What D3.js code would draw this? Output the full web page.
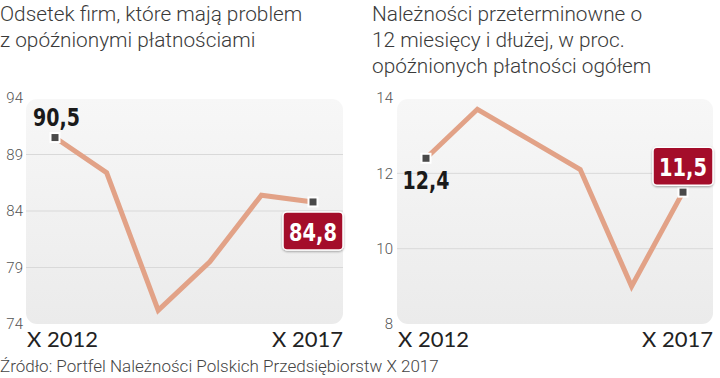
<!DOCTYPE html>
<html>
<head>
<meta charset="utf-8">
<script src="https://cdn.jsdelivr.net/npm/d3@7"></script>
<style>
body { margin: 0; background: #fff; }
svg { display: block; }
</style>
</head>
<body>
<svg id="chart" width="720" height="378"></svg>
<script>
// dane
var periods = ["X 2012", "X 2013", "X 2014", "X 2015", "X 2016", "X 2017"];

var firmsShare = [90.5, 87.4, 75.2, 79.5, 85.4, 84.8];
var firmsTicks = [74, 79, 84, 89, 94];
var firmsTitle = ["Odsetek firm, które mają problem", "z opóźnionymi płatnościami"];

var overdueShare = [12.4, 13.7, 12.9, 12.1, 9.0, 11.5];
var overdueTicks = [8, 10, 12, 14];
var overdueTitle = ["Należności przeterminowne o", "12 miesięcy i dłużej, w proc.", "opóźnionych płatności ogółem"];

var sourceText = "Źródło: Portfel Należności Polskich Przedsiębiorstw X 2017";

var svg = d3.select("#chart");

var defs = svg.append("defs");
var grad = defs.append("linearGradient")
    .attr("id", "bg")
    .attr("x1", 0).attr("y1", 0).attr("x2", 0).attr("y2", 1);
grad.append("stop").attr("offset", "0%").attr("stop-color", "#f7f7f7");
grad.append("stop").attr("offset", "100%").attr("stop-color", "#ebebeb");

var shadow = defs.append("filter").attr("id", "shadow")
    .attr("x", "-20%").attr("y", "-20%").attr("width", "140%").attr("height", "160%");
shadow.append("feDropShadow")
    .attr("dx", 0).attr("dy", 1).attr("stdDeviation", 1.2)
    .attr("flood-color", "#000").attr("flood-opacity", 0.35);

var boldFont = "'DejaVu Sans Condensed', 'Liberation Sans Narrow', Roboto, sans-serif";

const drawChart = (cfg) => {
    var g = svg.append("g");

    // tytul
    g.append("text")
        .attr("x", cfg.titleX)
        .attr("y", 21)
        .style("font-family", "Roboto, sans-serif")
        .style("font-weight", 300)
        .style("font-size", "20.8px")
        .style("fill", "#3a3a3a")
        .selectAll("tspan")
        .data(cfg.title)
        .enter()
        .append("tspan")
        .attr("x", cfg.titleX)
        .attr("dy", function (d, i) { return i == 0 ? 0 : 26; })
        .text(function (d) { return d; });

    var x = d3.scalePoint()
        .domain(periods)
        .range([cfg.left + 29, cfg.right - 30]);

    var y = d3.scaleLinear()
        .domain(d3.extent(cfg.ticks))
        .range([cfg.bottom, cfg.top]);

    g.append("rect")
        .attr("x", cfg.left)
        .attr("y", cfg.top + 1)
        .attr("width", cfg.right - cfg.left)
        .attr("height", cfg.bottom - cfg.top - 1)
        .attr("rx", 11)
        .style("fill", "url(#bg)");

    // linie siatki
    g.append("g")
        .selectAll("line")
        .data(cfg.ticks.slice(1, -1))
        .enter()
        .append("line")
        .attr("x1", cfg.left)
        .attr("x2", cfg.right)
        .attr("y1", function (d) { return y(d); })
        .attr("y2", function (d) { return y(d); })
        .style("stroke", "#d9d9d9")
        .style("stroke-width", 1);

    var yAxis = g.append("g")
        .attr("transform", "translate(" + cfg.axisX + ",0)")
        .call(d3.axisLeft(y).tickValues(cfg.ticks).tickFormat(d3.format("d")).tickSize(0).tickPadding(0));
    yAxis.select(".domain").remove();
    yAxis.selectAll("text")
        .style("font-family", "Roboto, sans-serif")
        .style("font-weight", 300)
        .style("font-size", "15px")
        .style("fill", "#555");

    // etykiety osi X - tylko pierwsza i ostatnia
    var ends = [periods[0], periods[periods.length - 1]];
    g.append("g")
        .selectAll("text")
        .data(ends)
        .enter()
        .append("text")
        .attr("x", function (d, i) { return i == 0 ? cfg.left + 1 : cfg.right; })
        .attr("y", 347)
        .attr("text-anchor", function (d, i) { return i == 0 ? "start" : "end"; })
        .style("font-family", "Lato, sans-serif")
        .style("font-size", "22px")
        .style("fill", "#222")
        .text(function (d) { return d; });

    var line = d3.line()
        .x(function (d, i) { return x(periods[i]); })
        .y(function (d) { return y(d); });

    g.append("path")
        .datum(cfg.values)
        .attr("d", line)
        .style("fill", "none")
        .style("stroke", "#e2a287")
        .style("stroke-width", 5)
        .style("stroke-linejoin", "miter");

    var last = cfg.values.length - 1;

    g.append("g")
        .selectAll("rect")
        .data([0, last])
        .enter()
        .append("rect")
        .attr("x", function (i) { return x(periods[i]) - 4.5; })
        .attr("y", function (i) { return y(cfg.values[i]) - 4.5; })
        .attr("width", 9)
        .attr("height", 9)
        .style("fill", "#4a4a4a")
        .style("stroke", "#fff")
        .style("stroke-width", 2);

    var fmt = function (v) { return d3.format(".1f")(v).replace(".", ","); };

    // pierwsza wartosc - czarna etykieta
    var fx = x(periods[0]), fy = y(cfg.values[0]);
    g.append("g")
        .attr("transform", "translate(" + (fx + cfg.firstDx) + "," + (fy + cfg.firstDy) + ") scale(0.88,1)")
        .append("text")
        .attr("text-anchor", cfg.firstAnchor)
        .style("font-family", boldFont)
        .style("font-weight", 700)
        .style("font-size", "24px")
        .style("fill", "#1a1a1a")
        .text(fmt(cfg.values[0]));

    // ostatnia wartosc - czerwona ramka
    var lx = x(periods[last]), ly = y(cfg.values[last]);
    var bx = lx + cfg.boxDx, by = ly + cfg.boxDy;
    g.append("rect")
        .attr("x", bx - 30)
        .attr("y", by)
        .attr("width", 60)
        .attr("height", 38)
        .attr("rx", 4)
        .style("fill", "#a4102c")
        .style("stroke", "#fff")
        .style("stroke-width", 1.5)
        .attr("filter", "url(#shadow)");
    g.append("g")
        .attr("transform", "translate(" + bx + "," + (by + 29) + ") scale(0.88,1)")
        .append("text")
        .attr("text-anchor", "middle")
        .style("font-family", boldFont)
        .style("font-weight", 700)
        .style("font-size", "24.5px")
        .style("fill", "#fff")
        .text(fmt(cfg.values[last]));
};

drawChart({
    title: firmsTitle, titleX: 0,
    values: firmsShare, ticks: firmsTicks,
    left: 26, right: 343, top: 98, bottom: 324, axisX: 23,
    firstDx: -22, firstDy: -12, firstAnchor: "start",
    boxDx: 0, boxDy: 10
});

drawChart({
    title: overdueTitle, titleX: 372,
    values: overdueShare, ticks: overdueTicks,
    left: 397, right: 713, top: 98, bottom: 324, axisX: 393,
    firstDx: 0, firstDy: 31, firstAnchor: "middle",
    boxDx: 0, boxDy: -45
});

svg.append("text")
    .attr("x", 0)
    .attr("y", 372)
    .style("font-family", "Roboto, sans-serif")
    .style("font-weight", 300)
    .style("font-size", "17px")
    .style("fill", "#444")
    .text(sourceText);
</script>
</body>
</html>
